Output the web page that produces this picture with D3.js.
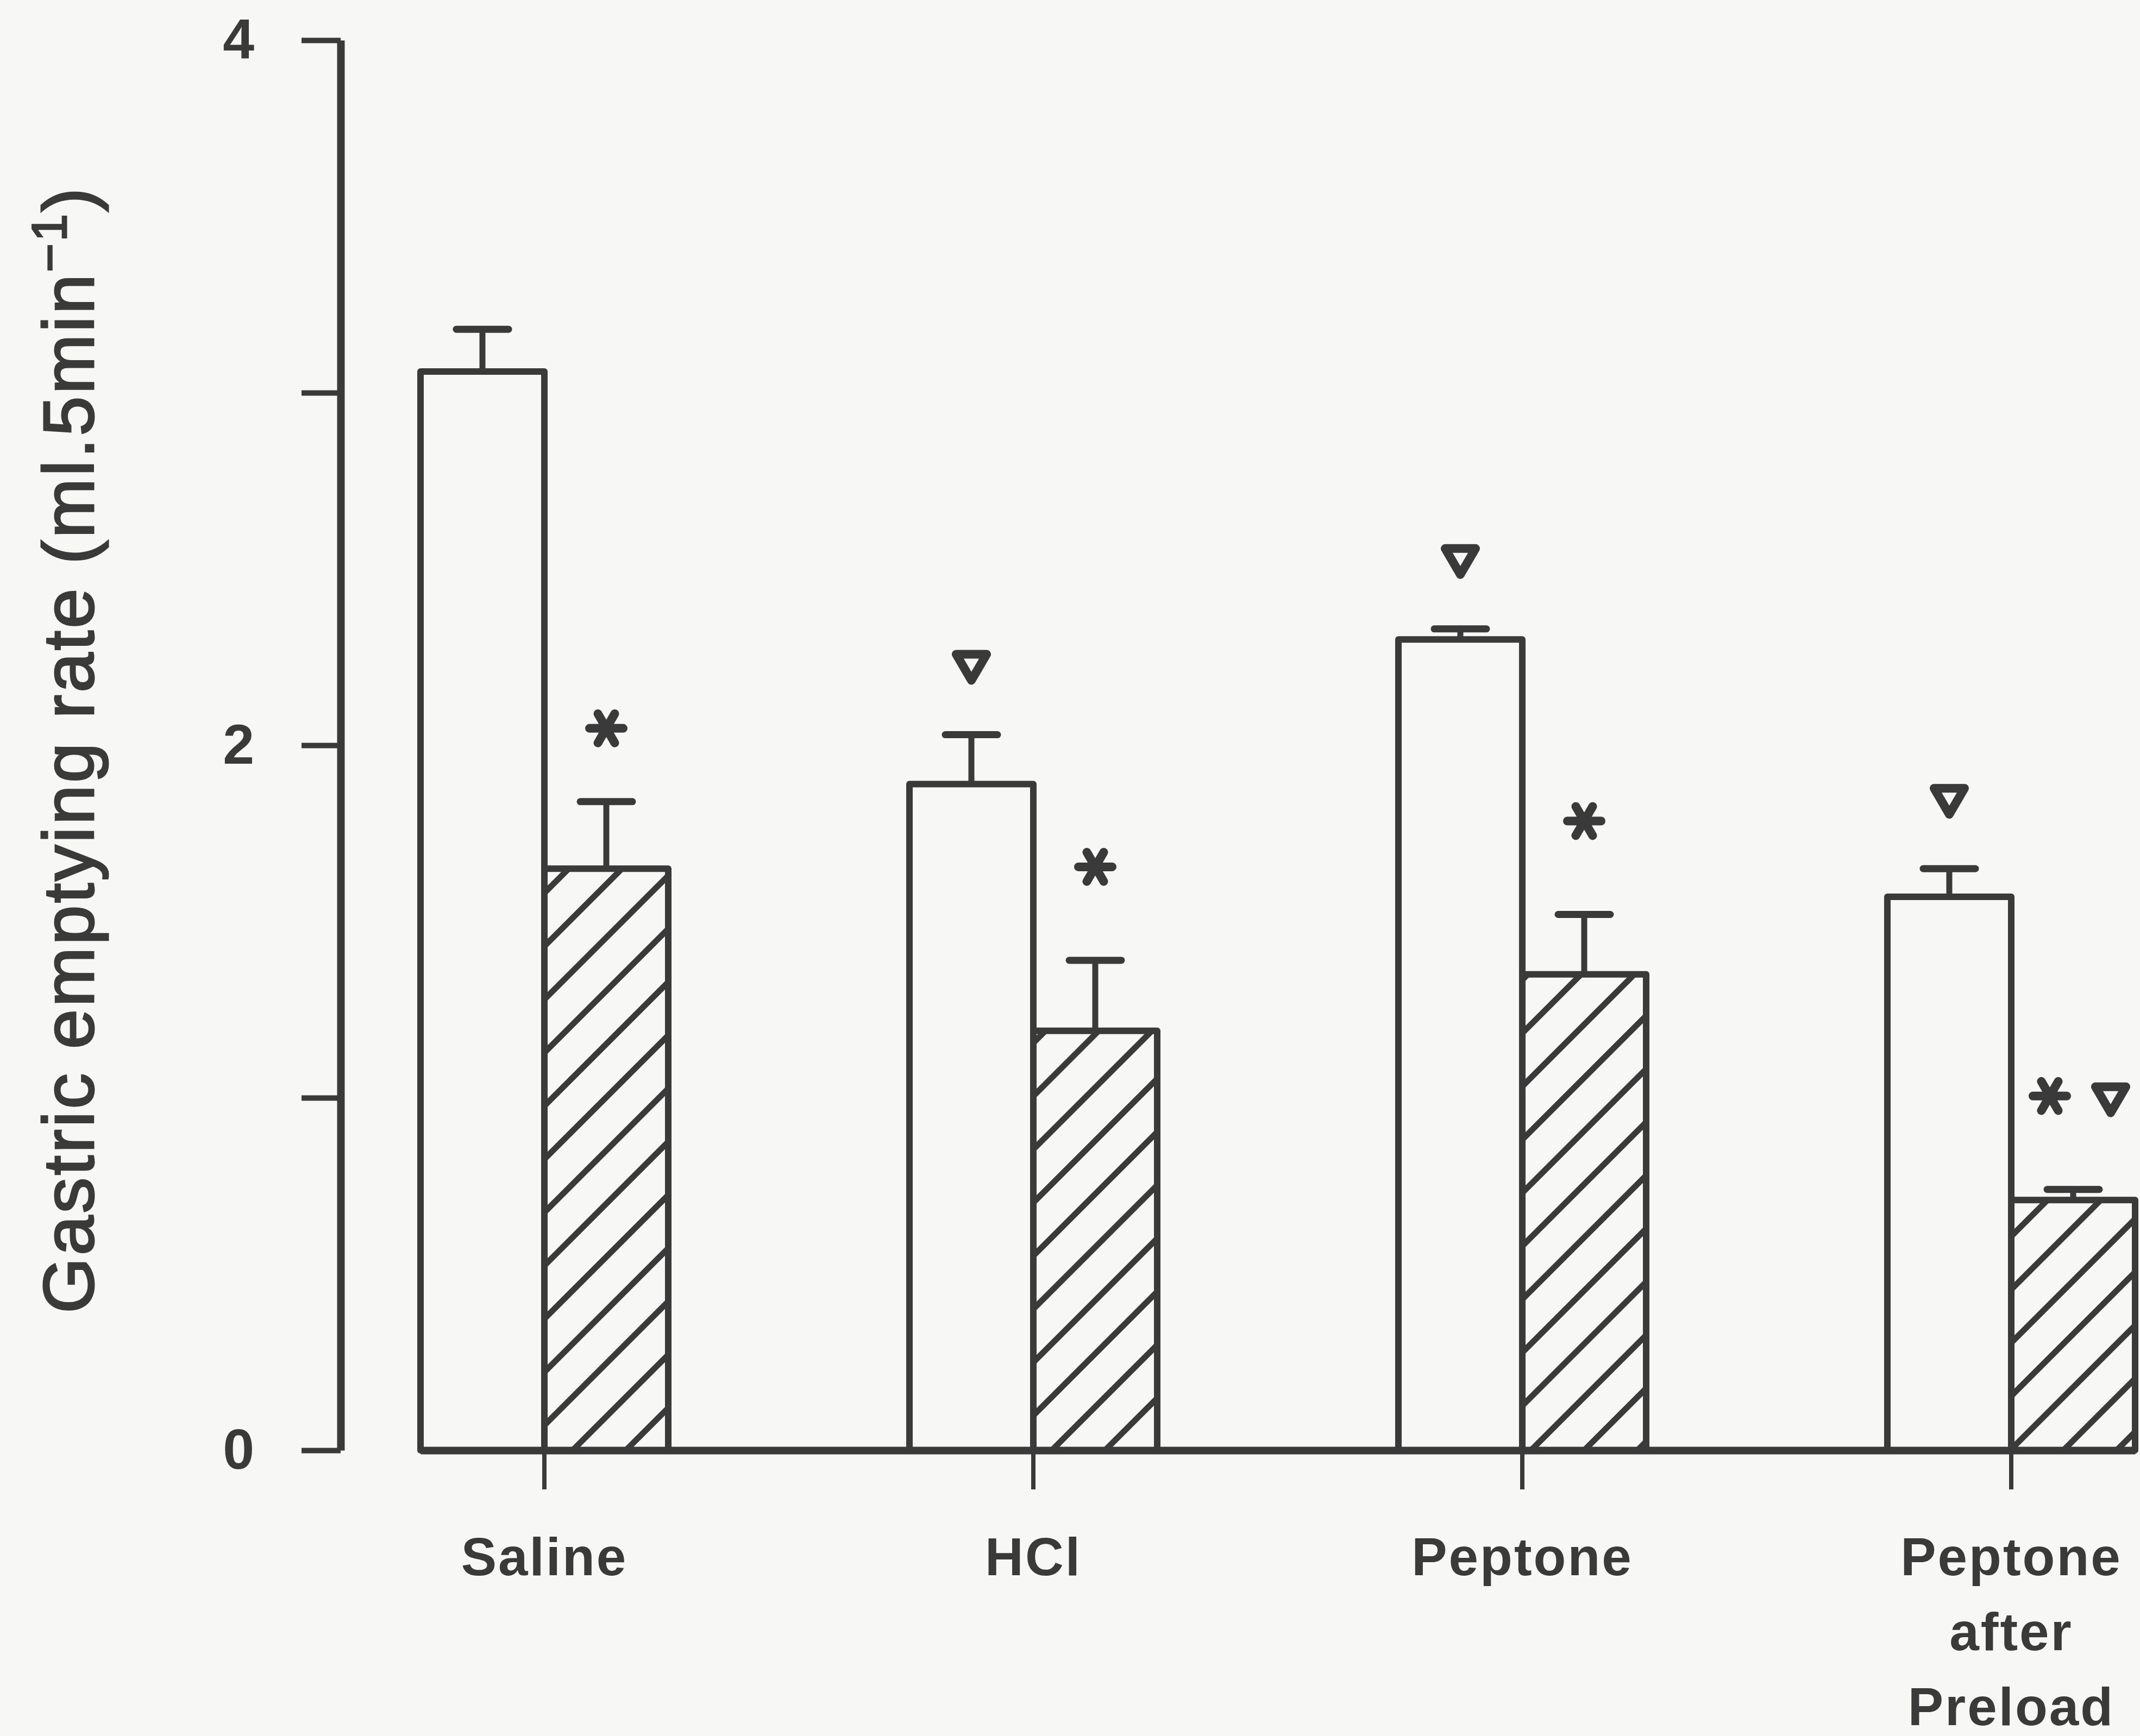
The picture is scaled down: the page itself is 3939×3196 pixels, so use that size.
<!DOCTYPE html>
<html>
<head>
<meta charset="utf-8">
<script src="https://cdn.jsdelivr.net/npm/d3@7"></script>
<style>
  html, body { margin: 0; padding: 0; background: #f7f7f5; }
  svg { display: block; }
</style>
</head>
<body>
<svg id="chart" width="3939" height="3196"></svg>
<script>
// Gastric emptying rate by test meal: two groups per meal, mean ± SEM.
const categories = ["Saline", "HCl", "Peptone", "Peptone after Preload"];
const categoryLines = [["Saline"], ["HCl"], ["Peptone"], ["Peptone", "after", "Preload"]];
const seriesNames = ["Group 1", "Group 2"];

const meanGroup1 = [3.06, 1.89, 2.30, 1.57];
const semGroup1  = [0.12, 0.14, 0.03, 0.08];
const meanGroup2 = [1.65, 1.19, 1.35, 0.71];
const semGroup2  = [0.19, 0.20, 0.17, 0.03];

// significance markers drawn above each bar
const marksGroup1 = ["", "▽", "▽", "▽"];
const marksGroup2 = ["*", "*", "*", "*▽"];

const yTicks = [0, 1, 2, 3, 4];
const yTickLabels = ["0", "", "2", "", "4"];
const yLabel = "Gastric emptying rate (ml.5min";
const yLabelSup = "\u22121";

const INK = "#3a3a3a";
const BG = "#f7f7f5";
const FONT = "'Liberation Sans', Arial, Helvetica, sans-serif";

const svg = d3.select("#chart");
svg.append("rect").attr("width", 3939).attr("height", 3196).attr("fill", BG);

// diagonal hatch for the second group
const defs = svg.append("defs");
const pat = defs.append("pattern")
  .attr("id", "hatch")
  .attr("patternUnits", "userSpaceOnUse")
  .attr("width", 98).attr("height", 98);
pat.append("rect").attr("width", 98).attr("height", 98).attr("fill", BG);
pat.append("path")
  .attr("d", "M0,98 L98,0 M-24.5,24.5 L24.5,-24.5 M73.5,122.5 L122.5,73.5")
  .attr("stroke", INK).attr("stroke-width", 11).attr("fill", "none");

const y = d3.scaleLinear().domain([0, 4]).range([2670, 74]);
const x = d3.scaleBand().domain(categories).range([774, 3930])
  .paddingInner(0.4933).paddingOuter(0);
const xs = d3.scaleBand().domain(seriesNames).range([0, x.bandwidth()]);

const rows = [];
categories.forEach((c, i) => {
  rows.push({ cat: c, s: seriesNames[0], mean: meanGroup1[i], sem: semGroup1[i], mark: marksGroup1[i] });
  rows.push({ cat: c, s: seriesNames[1], mean: meanGroup2[i], sem: semGroup2[i], mark: marksGroup2[i] });
});
const bx = d => x(d.cat) + xs(d.s);
const cx = d => bx(d) + xs.bandwidth() / 2;

// bars
svg.append("g").selectAll("rect").data(rows).join("rect")
  .attr("x", bx)
  .attr("y", d => y(d.mean))
  .attr("width", xs.bandwidth())
  .attr("height", d => y(0) - y(d.mean))
  .attr("fill", d => d.s === seriesNames[1] ? "url(#hatch)" : BG)
  .attr("stroke", INK).attr("stroke-width", 12)
  .attr("stroke-linejoin", "round");

// error bars (upper half only)
const eb = svg.append("g").attr("stroke", INK).attr("stroke-linecap", "round");
eb.selectAll("line.stem").data(rows).join("line").attr("class", "stem")
  .attr("x1", cx).attr("x2", cx)
  .attr("y1", d => y(d.mean)).attr("y2", d => y(d.mean + d.sem))
  .attr("stroke-width", 11);
eb.selectAll("line.cap").data(rows).join("line").attr("class", "cap")
  .attr("x1", d => cx(d) - 48).attr("x2", d => cx(d) + 48)
  .attr("y1", d => y(d.mean + d.sem)).attr("y2", d => y(d.mean + d.sem))
  .attr("stroke-width", 13);

// y axis
const yAxis = svg.append("g")
  .attr("transform", "translate(627,0)")
  .call(d3.axisLeft(y).tickValues(yTicks).tickSize(72).tickSizeOuter(0).tickPadding(87)
    .tickFormat((d, i) => yTickLabels[i]));
yAxis.select(".domain").attr("stroke", INK).attr("stroke-width", 14);
yAxis.selectAll(".tick line").attr("stroke", INK).attr("stroke-width", 10);
yAxis.selectAll(".tick text")
  .attr("fill", INK).attr("font-family", FONT).attr("font-size", 104).attr("font-weight", "bold");

// x axis
const xAxis = svg.append("g")
  .attr("transform", `translate(0,${y(0)})`)
  .call(d3.axisBottom(x).tickSize(72).tickSizeOuter(0).tickFormat(() => ""));
xAxis.select(".domain").attr("stroke", INK).attr("stroke-width", 14);
xAxis.selectAll(".tick line").attr("stroke", INK).attr("stroke-width", 8);

// category labels
const lab = svg.append("g").attr("font-family", FONT).attr("font-size", 98)
  .attr("font-weight", "bold").attr("fill", INK).attr("text-anchor", "middle")
  .attr("letter-spacing", 3);
categories.forEach((c, i) => {
  const t = lab.append("text").attr("x", x(c) + x.bandwidth() / 2).attr("y", y(0) + 230);
  categoryLines[i].forEach((line, k) => {
    t.append("tspan").attr("x", x(c) + x.bandwidth() / 2).attr("dy", k === 0 ? 0 : 138).text(line);
  });
});

// y axis title
const yt = svg.append("text")
  .attr("transform", "translate(172,1380) rotate(-90)")
  .attr("text-anchor", "middle")
  .attr("font-family", FONT).attr("font-size", 132)
  .attr("letter-spacing", 4)
  .attr("fill", INK).attr("stroke", INK).attr("stroke-width", 3);
yt.append("tspan").text(yLabel);
yt.append("tspan").attr("font-size", 90).attr("dy", -50).text(yLabelSup);
yt.append("tspan").attr("dy", 50).text(")");

// significance markers
const asteriskPath = (r) => [0, 60, 120].map(a => {
  const t = a * Math.PI / 180, dx = r * Math.cos(t), dy = r * Math.sin(t);
  return `M${-dx},${-dy}L${dx},${dy}`;
}).join("");
const trianglePath = "M-28,-23L28,-23L0,25Z";

const mk = svg.append("g").attr("stroke", INK).attr("fill", "none")
  .attr("stroke-linecap", "round").attr("stroke-linejoin", "round");
rows.forEach(d => {
  const syms = Array.from(d.mark);
  if (!syms.length) return;
  const top = y(d.mean + d.sem);
  const gap = 112;
  syms.forEach((s, k) => {
    const px = cx(d) + (syms.length > 1 ? (k - (syms.length - 1) / 2) * gap + 13 : 0);
    if (s === "*") {
      const py = top - (d.cat === categories[0] ? 135 : 172);
      mk.append("path").attr("d", asteriskPath(31))
        .attr("transform", `translate(${px},${py})`).attr("stroke-width", 16);
    } else {
      const py = top - (syms.length > 1 ? 166 : 125);
      mk.append("path").attr("d", trianglePath)
        .attr("transform", `translate(${px},${py})`).attr("stroke-width", 16);
    }
  });
});
</script>
</body>
</html>
